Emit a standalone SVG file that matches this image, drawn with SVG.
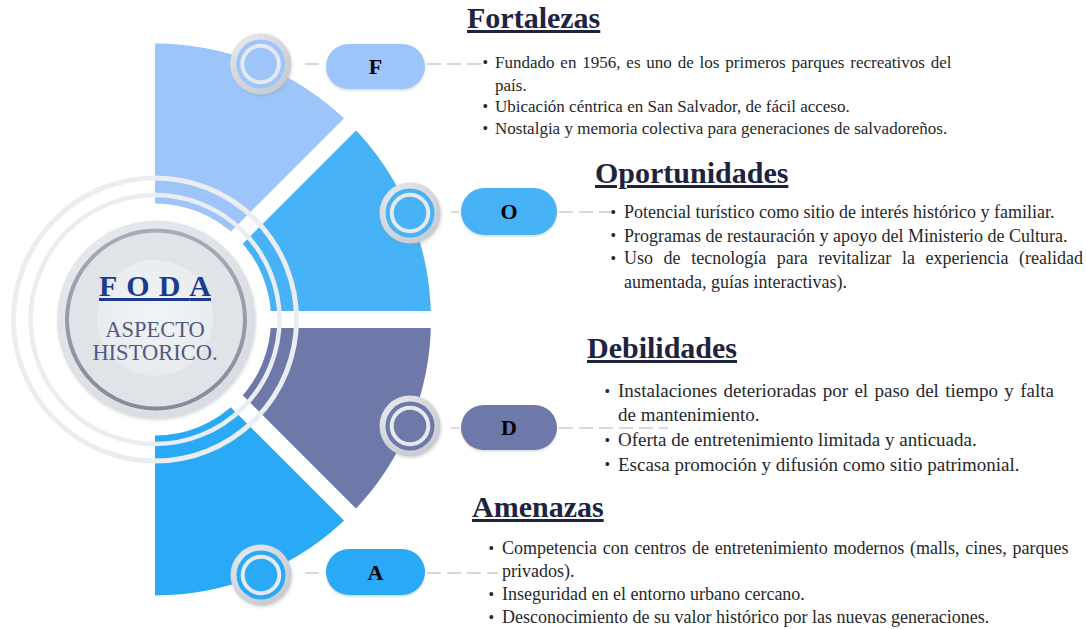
<svg xmlns="http://www.w3.org/2000/svg" width="1086" height="629" viewBox="0 0 1086 629">
<defs>
<style>
.title{font-family:"Liberation Serif","Times New Roman",serif;font-weight:bold;font-size:30px;fill:#1e2340;text-decoration:underline;}
.body{font-family:"Liberation Serif","Times New Roman",serif;font-size:17px;fill:#26282c;}
.bO{font-size:18px;}
.bD{font-size:19px;}
.bA{font-size:18px;}
.bul{font-family:"Liberation Serif","Times New Roman",serif;font-size:16px;fill:#26282c;}
.pl{font-family:"Liberation Serif","Times New Roman",serif;font-weight:bold;font-size:22px;fill:#000;text-anchor:middle;}
.dash{stroke:#c8cdd5;stroke-width:1.5;stroke-dasharray:14 6;fill:none;}
.ring{fill:none;stroke:#eaedf2;}
.gap{stroke:#fff;stroke-width:17;}
.ic-out{fill:url(#gIcon);filter:url(#sh);}
.ic-w{fill:none;stroke:#e6e9ee;stroke-width:4;}
</style>
<radialGradient id="gIcon" cx="35%" cy="30%" r="75%">
<stop offset="0" stop-color="#eceef1"/>
<stop offset="1" stop-color="#c7cbd1"/>
</radialGradient>
<radialGradient id="gOuter" cx="40%" cy="35%" r="70%">
<stop offset="0" stop-color="#eef0f3"/>
<stop offset="1" stop-color="#d8dce1"/>
</radialGradient>
<linearGradient id="gDark" x1="0" y1="0" x2="0" y2="1">
<stop offset="0" stop-color="#a7acb7"/>
<stop offset="1" stop-color="#858b99"/>
</linearGradient>
<radialGradient id="gInner" cx="50%" cy="45%" r="60%">
<stop offset="0" stop-color="#f1f3f5"/>
<stop offset="1" stop-color="#e8ebee"/>
</radialGradient>
<filter id="sh" x="-30%" y="-30%" width="160%" height="160%">
<feDropShadow dx="1" dy="1.5" stdDeviation="1.5" flood-color="#8a909a" flood-opacity="0.35"/>
</filter>
<filter id="psh" x="-10%" y="-20%" width="120%" height="150%">
<feDropShadow dx="0" dy="1.5" stdDeviation="1.2" flood-color="#7a808a" flood-opacity="0.3"/>
</filter>
</defs>
<rect width="1086" height="629" fill="#fff"/>

<g id="wheel">
<path d="M155,43.5 A276,276 0 0 1 350.16,124.34 L237.02,237.48 A116,116 0 0 0 155,203.5 Z" fill="#9ec5fa"/>
<path d="M350.16,124.34 A276,276 0 0 1 431,319.5 L271,319.5 A116,116 0 0 0 237.02,237.48 Z" fill="#47b2f6"/>
<path d="M431,319.5 A276,276 0 0 1 350.16,514.66 L237.02,401.52 A116,116 0 0 0 271,319.5 Z" fill="#6e79aa"/>
<path d="M350.16,514.66 A276,276 0 0 1 155,595.5 L155,435.5 A116,116 0 0 0 237.02,401.52 Z" fill="#2aaaf6"/>
<line class="gap" x1="155" y1="319.5" x2="375" y2="99.5"/>
<line class="gap" x1="155" y1="319.5" x2="450" y2="319.5"/>
<line class="gap" x1="155" y1="319.5" x2="375" y2="539.5"/>
<circle class="ring" cx="155" cy="319.5" r="141.5" stroke-width="5"/>
<circle class="ring" cx="155" cy="319.5" r="124.5" stroke-width="4.5"/>
</g>

<g id="center">
<circle cx="156" cy="319.5" r="99" fill="url(#gOuter)" filter="url(#sh)"/>
<circle cx="156" cy="319.5" r="89" fill="#e0e3e7" stroke="url(#gDark)" stroke-width="4"/>
<circle cx="155" cy="318" r="58" fill="url(#gInner)"/>
<text x="155" y="296" text-anchor="middle" font-family="Liberation Serif, Times New Roman, serif" font-weight="bold" font-size="30" letter-spacing="9" fill="#1b3c8e" text-decoration="underline">FOD<tspan letter-spacing="0">A</tspan></text>
<text x="155" y="337" text-anchor="middle" font-family="Liberation Serif, Times New Roman, serif" font-size="22.5" fill="#505b82">ASPECTO</text>
<text x="155" y="360" text-anchor="middle" font-family="Liberation Serif, Times New Roman, serif" font-size="22.5" fill="#505b82">HISTORICO.</text>
</g>

<g id="connectors">
<line class="dash" x1="305" y1="64" x2="323" y2="64"/>
<line class="dash" x1="427" y1="64" x2="482" y2="64"/>
<line class="dash" x1="451" y1="212" x2="459" y2="212"/>
<line class="dash" x1="559" y1="212" x2="612" y2="212"/>
<line class="dash" x1="451" y1="428" x2="459" y2="428"/>
<line class="dash" x1="559" y1="428" x2="668" y2="428"/>
<line class="dash" x1="305" y1="573" x2="323" y2="573"/>
<line class="dash" x1="427" y1="573" x2="498" y2="573"/>
</g>

<g id="node-F">
<circle class="ic-out" cx="260.6" cy="64" r="30.5"/>
<circle cx="260.6" cy="64" r="24.5" fill="#9ec5fa"/>
<circle class="ic-w" cx="260.6" cy="64" r="18.3"/>
<rect x="326" y="44" width="99" height="45" rx="22.5" fill="#9ec5fa" filter="url(#psh)"/>
<text class="pl" x="375.5" y="74">F</text>
<text class="title" x="467" y="28">Fortalezas</text>
<text class="bul" x="482.5" y="67.5">•</text>
<text class="body" x="495" y="68" word-spacing="1.6">Fundado en 1956, es uno de los primeros parques recreativos del</text>
<text class="body" x="495" y="90.5">país.</text>
<text class="bul" x="482.5" y="111.5">•</text>
<text class="body" x="495" y="112">Ubicación céntrica en San Salvador, de fácil acceso.</text>
<text class="bul" x="482.5" y="133.5">•</text>
<text class="body" x="495" y="134">Nostalgia y memoria colectiva para generaciones de salvadoreños.</text>
</g>

<g id="node-O">
<circle class="ic-out" cx="410" cy="213" r="30.5"/>
<circle cx="410" cy="213" r="24.5" fill="#47b2f6"/>
<circle class="ic-w" cx="410" cy="213" r="18.3"/>
<rect x="461" y="188" width="96" height="47" rx="23.5" fill="#47b2f6" filter="url(#psh)"/>
<text class="pl" x="509" y="219">O</text>
<text class="title" x="595" y="183" font-size="29.3">Oportunidades</text>
<text class="bul" x="610.5" y="217.5">•</text>
<text class="body bO" x="624" y="218">Potencial turístico como sitio de interés histórico y familiar.</text>
<text class="bul" x="610.5" y="241">•</text>
<text class="body bO" x="624" y="241.5">Programas de restauración y apoyo del Ministerio de Cultura.</text>
<text class="bul" x="610.5" y="263.5">•</text>
<text class="body bO" x="624" y="264" word-spacing="6.1">Uso de tecnología para revitalizar la experiencia (realidad</text>
<text class="body bO" x="624" y="287.5">aumentada, guías interactivas).</text>
</g>

<g id="node-D">
<circle class="ic-out" cx="410" cy="426" r="30.5"/>
<circle cx="410" cy="426" r="24.5" fill="#6e79aa"/>
<circle class="ic-w" cx="410" cy="426" r="18.3"/>
<rect x="461" y="405" width="96" height="45" rx="22.5" fill="#6e79aa" filter="url(#psh)"/>
<text class="pl" x="509" y="435">D</text>
<text class="title" x="587" y="358" font-size="29.5">Debilidades</text>
<text class="bul" x="604.5" y="396.5">•</text>
<text class="body bD" x="618" y="397" word-spacing="1.6">Instalaciones deterioradas por el paso del tiempo y falta</text>
<text class="body bD" x="618" y="420.5">de mantenimiento.</text>
<text class="bul" x="604.5" y="445.5">•</text>
<text class="body bD" x="618" y="446">Oferta de entretenimiento limitada y anticuada.</text>
<text class="bul" x="604.5" y="469.5">•</text>
<text class="body bD" x="618" y="470.5">Escasa promoción y difusión como sitio patrimonial.</text>
</g>

<g id="node-A">
<circle class="ic-out" cx="261" cy="575" r="30.5"/>
<circle cx="261" cy="575" r="24.5" fill="#2aaaf6"/>
<circle class="ic-w" cx="261" cy="575" r="18.3"/>
<rect x="326" y="549" width="99" height="46" rx="23" fill="#2aaaf6" filter="url(#psh)"/>
<text class="pl" x="375.5" y="580">A</text>
<text class="title" x="472" y="517">Amenazas</text>
<text class="bul" x="488.5" y="553.5">•</text>
<text class="body bA" x="502" y="554" word-spacing="1.2">Competencia con centros de entretenimiento modernos (malls, cines, parques</text>
<text class="body bA" x="502" y="577">privados).</text>
<text class="bul" x="488.5" y="599.5">•</text>
<text class="body bA" x="502" y="600">Inseguridad en el entorno urbano cercano.</text>
<text class="bul" x="488.5" y="622.5">•</text>
<text class="body bA" x="502" y="623">Desconocimiento de su valor histórico por las nuevas generaciones.</text>
</g>
</svg>
